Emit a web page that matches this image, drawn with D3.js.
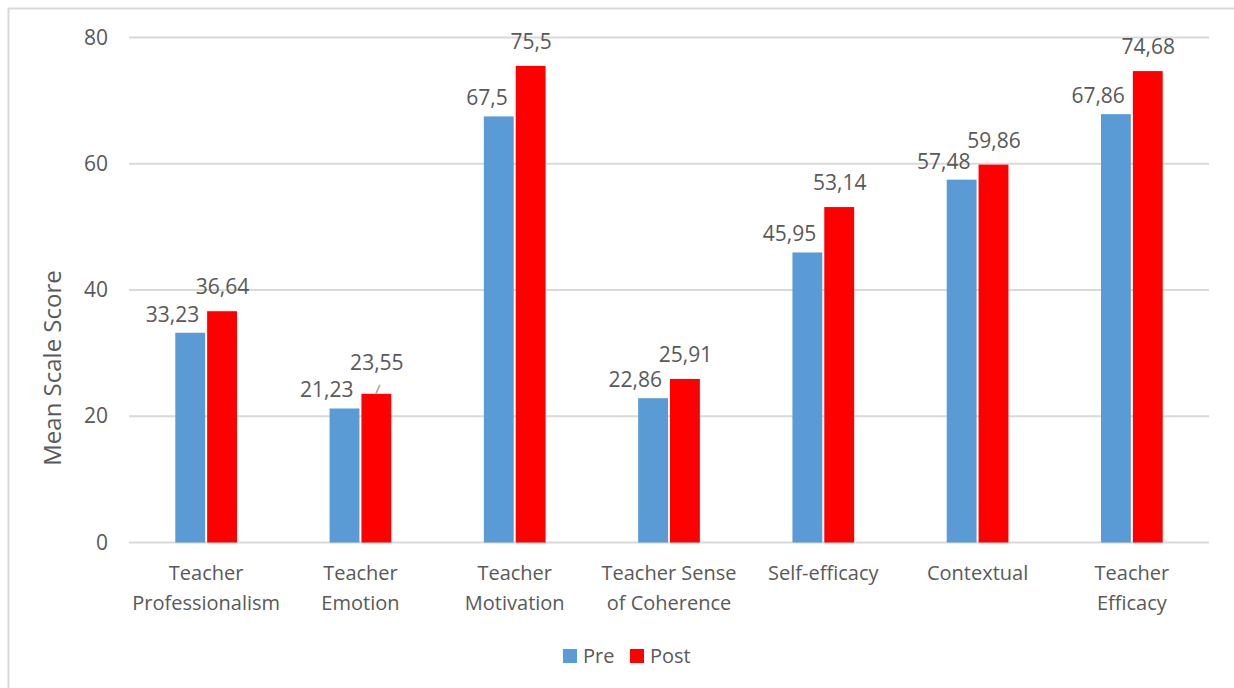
<!DOCTYPE html>
<html>
<head>
<meta charset="utf-8">
<script src="https://cdn.jsdelivr.net/npm/d3@7"></script>
<style>
  body { margin: 0; background: #fff; }
  svg text { font-family: "Open Sans", sans-serif; fill: #595959; }
</style>
</head>
<body>
<svg id="chart" width="1234" height="688"></svg>
<script>
// chart data
var categories = [
  ["Teacher", "Professionalism"],
  ["Teacher", "Emotion"],
  ["Teacher", "Motivation"],
  ["Teacher Sense", "of Coherence"],
  ["Self-efficacy"],
  ["Contextual"],
  ["Teacher", "Efficacy"]
];
var seriesNames = ["Pre", "Post"];
var preValues = [33.23, 21.23, 67.5, 22.86, 45.95, 57.48, 67.86];
var postValues = [36.64, 23.55, 75.5, 25.91, 53.14, 59.86, 74.68];
var yTicks = [0, 20, 40, 60, 80];
var seriesColors = ["#5B9BD5", "#FF0000"];

var svg = d3.select("#chart");
var plotLeft = 129, plotRight = 1209, plotTop = 37.5, plotBottom = 542.5;

// outer frame (cut off at right and bottom like the original)
svg.append("rect")
  .attr("x", 8.5).attr("y", 8.5)
  .attr("width", 1240).attr("height", 700)
  .attr("fill", "none").attr("stroke", "#d9d9d9").attr("stroke-width", 2);

var x0 = d3.scaleBand()
  .domain(d3.range(categories.length))
  .range([plotLeft, plotRight])
  .paddingInner(0.6)
  .paddingOuter(0.3);

var x1 = d3.scaleBand()
  .domain(seriesNames)
  .range([0, x0.bandwidth()]);

var y = d3.scaleLinear().domain([0, 80]).range([plotBottom, plotTop]);

// gridlines
svg.append("g").selectAll("line")
  .data(yTicks)
  .enter().append("line")
  .attr("x1", plotLeft).attr("x2", plotRight)
  .attr("y1", function(d) { return y(d); })
  .attr("y2", function(d) { return y(d); })
  .attr("stroke", "#d9d9d9")
  .attr("stroke-width", 2);

// y axis labels
var yAxis = d3.axisLeft(y).tickValues(yTicks).tickSize(0).tickPadding(0);
var yg = svg.append("g").attr("transform", "translate(108,0)").call(yAxis);
yg.select(".domain").remove();
yg.selectAll("text")
  .style("font-family", "'Open Sans', sans-serif")
  .style("font-size", "21px")
  .attr("fill", "#595959");

svg.append("text")
  .attr("transform", "translate(61,368) rotate(-90)")
  .attr("text-anchor", "middle")
  .style("font-size", "24px")
  .text("Mean Scale Score");

var rows = categories.map(function(c, i) {
  return { i: i, label: c, values: [preValues[i], postValues[i]] };
});

var groups = svg.append("g").selectAll("g.cat")
  .data(rows)
  .enter().append("g")
  .attr("class", "cat")
  .attr("transform", function(d) { return "translate(" + x0(d.i) + ",0)"; });

function cells(d) {
  return d.values.map(function(v, k) { return { s: seriesNames[k], k: k, v: v, cat: d.i }; });
}

groups.selectAll("rect")
  .data(cells)
  .enter().append("rect")
  .attr("x", function(d) { return x1(d.s) + (d.k === 1 ? 1 : 0); })
  .attr("width", x1.bandwidth() - 1)
  .attr("y", function(d) { return y(d.v); })
  .attr("height", function(d) { return y(0) - y(d.v); })
  .attr("fill", function(d) { return seriesColors[d.k]; });

// data labels
var fmt = function(v) { return String(v).replace(".", ","); };
groups.selectAll("text.val")
  .data(cells)
  .enter().append("text")
  .attr("class", "val")
  .style("font-size", "21px")
  .attr("text-anchor", function(d) { return d.k === 0 ? "end" : "middle"; })
  .attr("x", function(d) {
    return d.k === 0 ? x1(d.s) + x1.bandwidth() - 7 : x1(d.s) + x1.bandwidth() / 2 + 1;
  })
  .attr("y", function(d) {
    if (d.k === 0) return y(d.v) - 11;
    return y(d.v) - (d.cat === 1 ? 24 : 17);
  })
  .text(function(d) { return fmt(d.v); });

// leader line for the Teacher Emotion post label
var em = x0(1) + x1("Post") + x1.bandwidth() / 2;
svg.append("line")
  .attr("x1", em + 4).attr("y1", y(postValues[1]) - 9)
  .attr("x2", em).attr("y2", y(postValues[1]))
  .attr("stroke", "#a6a6a6").attr("stroke-width", 1.5);

// category labels
groups.each(function(d) {
  var t = d3.select(this).append("text")
    .attr("text-anchor", "middle")
    .style("font-size", "20px")
    .attr("x", x0.bandwidth() / 2)
    .attr("y", 580);
  d.label.forEach(function(line, j) {
    t.append("tspan")
      .attr("x", x0.bandwidth() / 2)
      .attr("y", 580 + j * 30)
      .text(line);
  });
});

// legend
var legend = svg.append("g").attr("transform", "translate(563,649)");
var legendX = [0, 67];
seriesNames.forEach(function(name, k) {
  var g = legend.append("g").attr("transform", "translate(" + legendX[k] + ",0)");
  g.append("rect").attr("width", 14).attr("height", 14).attr("fill", seriesColors[k]);
  g.append("text").attr("x", 20).attr("y", 14).style("font-size", "20px").text(name);
});
</script>
</body>
</html>
